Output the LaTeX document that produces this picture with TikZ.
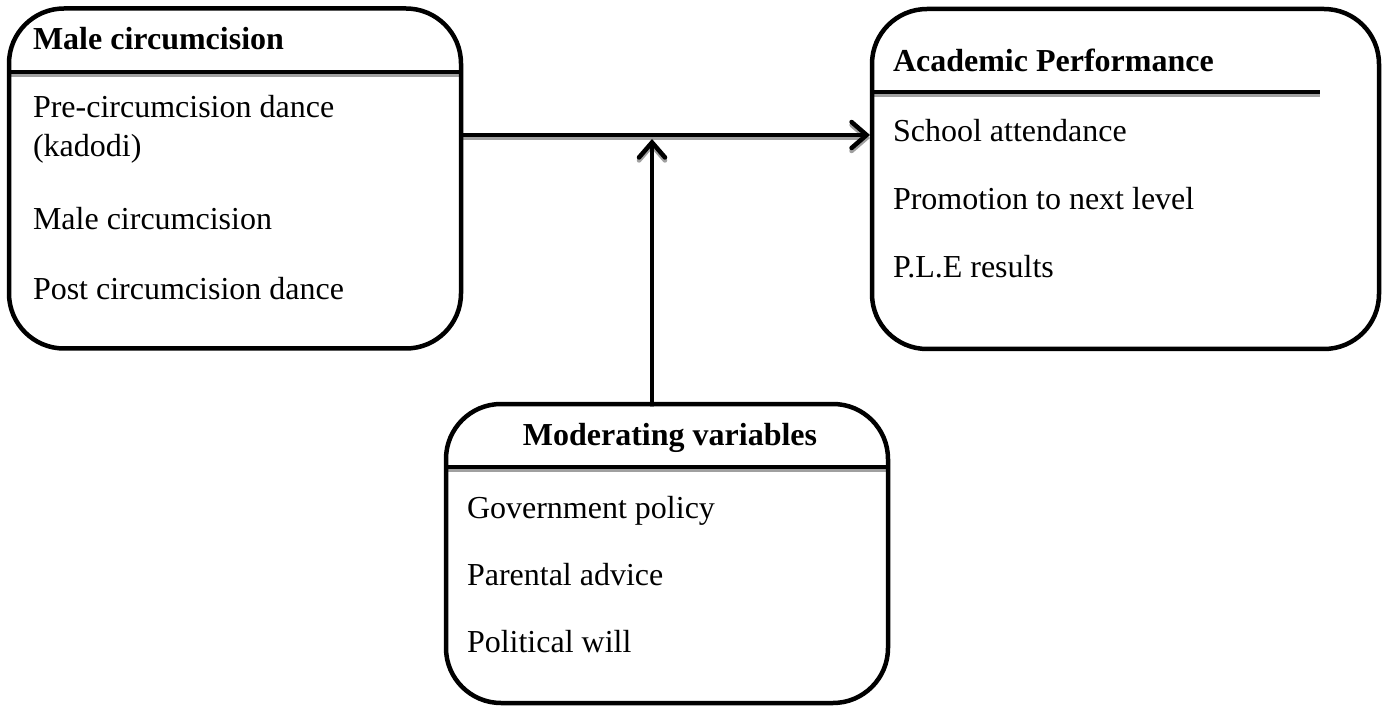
\documentclass[tikz,border=0pt]{standalone}
\usepackage{fontspec}
\setmainfont{Liberation Serif}
\usetikzlibrary{arrows.meta}
\definecolor{shgray}{HTML}{A0A0A0}
\begin{document}
\begin{tikzpicture}[x=1pt,y=-1pt,
  box/.style={draw=black, line width=4.5pt, rectangle, rounded corners=55pt, outer sep=0pt, inner sep=0pt},
  txt/.style={inner sep=0pt, outer sep=0pt, anchor=base west, font=\fontsize{32}{38}\selectfont},
  ttl/.style={txt, font=\fontsize{32}{38}\selectfont\bfseries},
  divline/.style={line width=4.5pt, black},
  divshadow/.style={line width=4.5pt, shgray, transform canvas={yshift=-3pt}},
  arr/.style={line width=4.5pt, black, -{Straight Barb[length=15pt,width=26pt,line cap=round]}},
  arrshadow/.style={arr, draw=shgray, transform canvas={yshift=-3pt}}
]
\useasboundingbox (0,0) rectangle (1390,711);

% coordinates for connectors and dividers
\coordinate (h) at (0,135);
\coordinate (v) at (652,139);
\coordinate (d1) at (0,72);
\coordinate (d2) at (0,92);
\coordinate (d2e) at (1320,92);
\coordinate (d3) at (0,467);

% box nodes (placement for anchors)
\node[box, draw=none, minimum width=452pt, minimum height=340pt] (mc) at (235,178.5) {};
\node[box, draw=none, minimum width=507pt, minimum height=340pt] (ap) at (1125.5,179) {};
\node[box, draw=none, minimum width=442pt, minimum height=299pt] (mv) at (667,553.5) {};

% shadows
\draw[divshadow] (mc.west |- d1) -- (mc.east |- d1);
\draw[divshadow] (ap.west |- d2) -- (d2e);
\draw[divshadow] (mv.west |- d3) -- (mv.east |- d3);
\draw[arrshadow] (mc.east |- h) -- ([xshift=-2pt]ap.west |- h);
\draw[arrshadow] (mv.north -| v) -- (v);

% boxes
\node[box, minimum width=452pt, minimum height=340pt] (mcb) at (mc) {};
\node[box, minimum width=507pt, minimum height=340pt] (apb) at (ap) {};
\node[box, minimum width=442pt, minimum height=299pt] (mvb) at (mv) {};

% dividers
\draw[divline] (mc.west |- d1) -- (mc.east |- d1);
\draw[divline] (ap.west |- d2) -- (d2e);
\draw[divline] (mv.west |- d3) -- (mv.east |- d3);

% connectors
\draw[arr] (mc.east |- h) -- ([xshift=-2pt]ap.west |- h);
\draw[arr] (mv.north -| v) -- (v);

% left box text
\node[ttl] (mct) at (33,50) {Male circumcision};
\node[txt] (mc1) at (33,118) {Pre-circumcision dance};
\node[txt] (mc2) at (33,157) {(kadodi)};
\node[txt] (mc3) at (33,230) {Male circumcision};
\node[txt] (mc4) at (33,300) {Post circumcision dance};

% right box text
\node[ttl] (apt) at (893,72) {Academic Performance};
\node[txt] (ap1) at (893,142) {School attendance};
\node[txt] (ap2) at (893,210) {Promotion to next level};
\node[txt] (ap3) at (893,278) {P.L.E results};

% bottom box text
\node[ttl, anchor=base] (mvt) at (670,445) {Moderating variables};
\node[txt] (mv1) at (467,518) {Government policy};
\node[txt] (mv2) at (467,585) {Parental advice};
\node[txt] (mv3) at (467,652) {Political will};
\end{tikzpicture}
\end{document}
